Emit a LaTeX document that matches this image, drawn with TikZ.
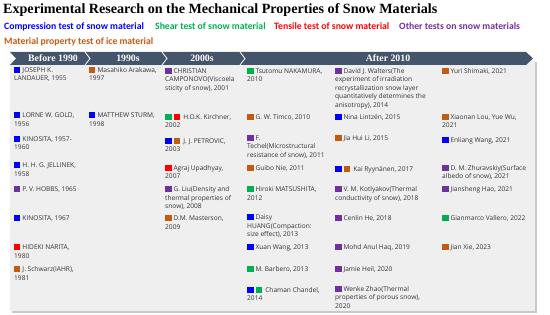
\documentclass[tikz,border=0pt]{standalone}
\usepackage{fontspec}
\setmainfont{Liberation Serif}
\newfontfamily\entryff{Open Sans}
\newfontfamily\legff{Carlito}
\definecolor{cblue}{HTML}{0000FF}
\definecolor{cgreen}{HTML}{00B050}
\definecolor{cred}{HTML}{FF0000}
\definecolor{cpurple}{HTML}{7030A0}
\definecolor{corange}{HTML}{C55A11}
\definecolor{barc}{HTML}{44546A}
\definecolor{panelc}{HTML}{EFEFEF}
\definecolor{shadowc}{HTML}{C9C9C9}
\definecolor{txtc}{HTML}{333333}
\newcommand\myentryfont{\entryff\fontsize{6.6}{8.5}\selectfont}
\newcommand\mylegfont{\legff\bfseries\fontsize{9.7}{12}\selectfont}
\newcommand\myhdrfont{\bfseries\fontsize{9.8}{11}\selectfont}
\newcommand\sq[1]{\raisebox{-0.6pt}{\textcolor{#1}{\rule{6.3pt}{5.8pt}}}}
\newcommand\sqa[1]{\sq{#1}\hspace{2pt}}
\newcommand\sqb[2]{\sq{#1}\hspace{2pt}\sq{#2}\hspace{3.5pt}}
\tikzset{
  entry/.style={anchor=north west, yshift=5.2pt, inner sep=0pt, align=left, font=\myentryfont, text=txtc},
  hdr/.style={inner sep=0pt, text=white, font=\myhdrfont},
  leg/.style={anchor=base west, inner sep=0pt, font=\mylegfont},
}
\begin{document}
\begin{tikzpicture}[x=1pt,y=-1pt]
\useasboundingbox (0,0) rectangle (550,315);
% title and legend
\node[anchor=base west, inner sep=0pt, font=\bfseries\fontsize{14.1}{16}\selectfont] (title) at (3,13.3)
  {Experimental Research on the Mechanical Properties of Snow Materials};
\node[leg, text=cblue] (lg1) at (4,30) {Compression test of snow material};
\node[leg, text=cgreen] (lg2) at (155,30) {Shear test of snow material};
\node[leg, text=cred] (lg3) at (274,30) {Tensile test of snow material};
\node[leg, text=cpurple] (lg4) at (399,30) {Other tests on snow materials};
\node[leg, text=corange] (lg5) at (4,44.6) {Material property test of ice material};
% panel
\fill[shadowc] (12,62) rectangle (537,313);
\fill[panelc] (10,60) rectangle (535,311);
% header bar
\fill[barc] (10,52) -- (526,52) -- (533,58.5) -- (526,65) -- (10,65) -- (16,58.5) -- cycle;
\foreach \sx in {85,162,240} {
  \draw[white, line width=0.8pt] (\sx,52) -- (\sx+5,58.5) -- (\sx,65);
}
\node[hdr] (h1) at (53,58.5) {Before 1990};
\node[hdr] (h2) at (128,58.5) {1990s};
\node[hdr] (h3) at (202,58.5) {2000s};
\node[hdr] (h4) at (388,58.5) {After 2010};
% column 1
\node[entry] (a1) at (14,72.3) {\sqa{cblue}JOSEPH K.\\LANDAUER, 1955};
\node[entry] (a2) at (14,117.5) {\sqa{cblue}LORNE W. GOLD,\\1956};
\node[entry] (a3) at (14,141.3) {\sqa{cblue}KINOSITA, 1957-\\1960};
\node[entry] (a4) at (14,167.5) {\sqa{cblue}H. H. G. JELLINEK,\\1958};
\node[entry] (a5) at (14,191.5) {\sqa{cpurple}P. V. HOBBS, 1965};
\node[entry] (a6) at (14,220.5) {\sqa{cblue}KINOSITA, 1967};
\node[entry] (a7) at (14,249.5) {\sqa{cred}HIDEKI NARITA,\\1980};
\node[entry] (a8) at (14,271.5) {\sqa{corange}J. Schwarz(IAHR),\\1981};
% column 2
\node[entry] (b1) at (89,72.3) {\sqa{corange}Masahiko Arakawa,\\1997};
\node[entry] (b2) at (89,117.5) {\sqa{cblue}MATTHEW STURM,\\1998};
% column 3
\node[entry] (c1) at (165,73.3) {\sqa{cpurple}CHRISTIAN\\CAMPONOVO(Viscoela\\sticity of snow), 2001};
\node[entry] (c2) at (165,119.3) {\sqb{cgreen}{cred}H.O.K. Kirchner,\\2002};
\node[entry] (c3) at (165,143.3) {\sqb{cblue}{corange}J. J. PETROVIC,\\2003};
\node[entry] (c4) at (165,170.3) {\sqa{cred}Agraj Upadhyay,\\2007};
\node[entry] (c5) at (165,191.5) {\sqa{cpurple}G. Liu(Density and\\thermal properties of\\snow), 2008};
\node[entry] (c6) at (165,220.5) {\sqa{corange}D.M. Masterson,\\2009};
% column 4
\node[entry] (d1) at (247,73.3) {\sqa{cgreen}Tsutomu NAKAMURA,\\2010};
\node[entry] (d2) at (247,119.3) {\sqa{corange}G. W. Timco, 2010};
\node[entry] (d3) at (247,140.3) {\sqa{cpurple}F.\\Techel(Microstructural\\resistance of snow), 2011};
\node[entry] (d4) at (247,170.3) {\sqa{corange}Guibo Nie, 2011};
\node[entry] (d5) at (247,191.5) {\sqa{cgreen}Hiroki MATSUSHITA,\\2012};
\node[entry] (d6) at (247,219.5) {\sqa{cblue}Daisy\\HUANG(Compaction:\\size effect), 2013};
\node[entry] (d7) at (247,249.5) {\sqa{cblue}Xuan Wang, 2013};
\node[entry] (d8) at (247,271.5) {\sqa{cgreen}M. Barbero, 2013};
\node[entry] (d9) at (247,292.3) {\sqb{cblue}{cgreen}Chaman Chandel,\\2014};
% column 5
\node[entry] (e1) at (335,73.3) {\sqa{cpurple}David J. Walters(The\\experiment of irradiation\\recrystallization snow layer\\quantitatively determines the\\anisotropy), 2014};
\node[entry] (e2) at (335,119.3) {\sqa{cblue}Nina Lintzén, 2015};
\node[entry] (e3) at (335,140.3) {\sqa{corange}Jia Hui Li, 2015};
\node[entry] (e4) at (335,171.3) {\sqb{cblue}{corange}Kai Ryynänen, 2017};
\node[entry] (e5) at (335,191.5) {\sqa{cpurple}V. M. Kotlyakov(Thermal\\conductivity of snow), 2018};
\node[entry] (e6) at (335,220.5) {\sqa{cpurple}Cenlin He, 2018};
\node[entry] (e7) at (335,249.5) {\sqa{cpurple}Mohd Anul Haq, 2019};
\node[entry] (e8) at (335,271.5) {\sqa{cpurple}Jamie Heil, 2020};
\node[entry] (e9) at (335,291.3) {\sqa{cpurple}Wenke Zhao(Thermal\\properties of porous snow),\\2020};
% column 6
\node[entry] (f1) at (442,73.3) {\sqa{corange}Yuri Shimaki, 2021};
\node[entry] (f2) at (442,119.3) {\sqa{corange}Xiaonan Lou, Yue Wu,\\2021};
\node[entry] (f3) at (442,142.3) {\sqa{cblue}Enliang Wang, 2021};
\node[entry] (f4) at (442,170.3) {\sqa{cpurple}D. M. Zhuravskiy(Surface\\albedo of snow), 2021};
\node[entry] (f5) at (442,191.5) {\sqa{cpurple}Jiansheng Hao, 2021};
\node[entry] (f6) at (442,220.5) {\sqa{cgreen}Gianmarco Vallero, 2022};
\node[entry] (f7) at (442,249.5) {\sqa{corange}Jian Xie, 2023};
\end{tikzpicture}
\end{document}
